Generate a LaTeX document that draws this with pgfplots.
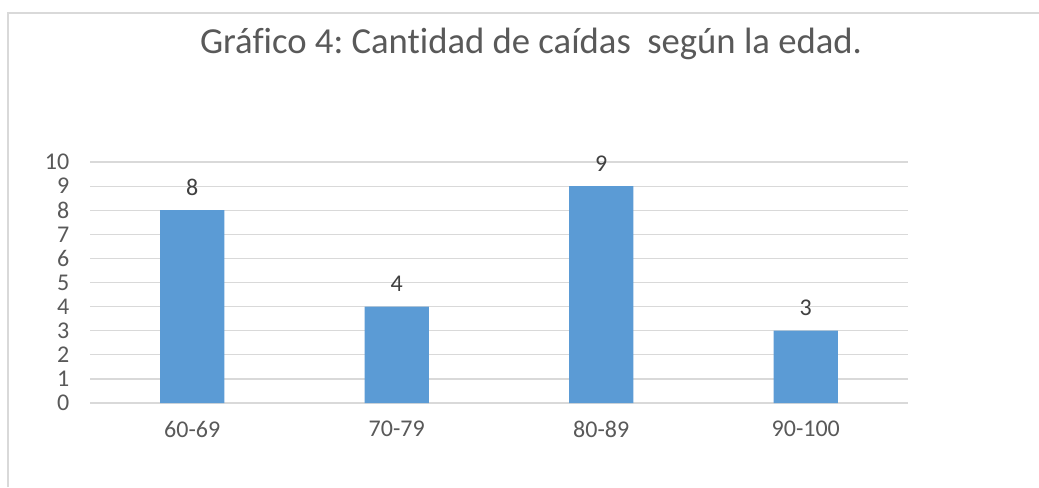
\documentclass[border=0pt]{standalone}
\usepackage{pgfplots}
\pgfplotsset{compat=1.18}
\usepackage{fontspec}
\setmainfont{Carlito}[Ligatures=NoCommon]
\frenchspacing
\definecolor{barblue}{HTML}{5B9BD5}
\definecolor{txtgray}{HTML}{595959}
\definecolor{lblgray}{HTML}{404040}
\definecolor{gridgray}{HTML}{D9D9D9}
\definecolor{framegray}{HTML}{D9D9D9}
\begin{document}
\begin{tikzpicture}[x=0.75pt,y=0.75pt]
\useasboundingbox (0,0) rectangle (1039,487);
\fill[white] (0,0) rectangle (1039,487);
\draw[framegray,line width=1.5pt] (8,0) -- (8,474) -- (1039,474);
\node[txtgray,font=\fontsize{27.5}{33}\selectfont] at (531,443) {Gráfico 4: Cantidad de caídas \ según la edad.};
\begin{axis}[
  at={(67.5pt,63pt)}, anchor=south west,
  scale only axis,
  width=613.5pt, height=180.75pt,
  xmin=-0.5, xmax=3.5, ymin=0, ymax=10,
  axis line style={draw=none},
  ybar, bar width=0.313,
  xtick={0,1,2,3},
  xticklabels={60-69,70-79,80-89,90-100},
  ytick={0,1,...,10},
  ymajorgrids, grid style={gridgray,line width=0.9pt},
  major tick length=0pt,
  tick style={draw=none},
  tick label style={txtgray,font=\fontsize{18}{20}\selectfont},
  /pgf/number format/assume math mode=true,
  yticklabel style={xshift=-12pt},
  xticklabel style={yshift=-10pt},
  nodes near coords,
  every node near coord/.append style={lblgray,font=\fontsize{18}{20}\selectfont,yshift=7.5pt},
  clip=false,
]
\addplot[fill=barblue,draw=none] coordinates {(0,8) (1,4) (2,9) (3,3)};
\end{axis}
\end{tikzpicture}
\end{document}
